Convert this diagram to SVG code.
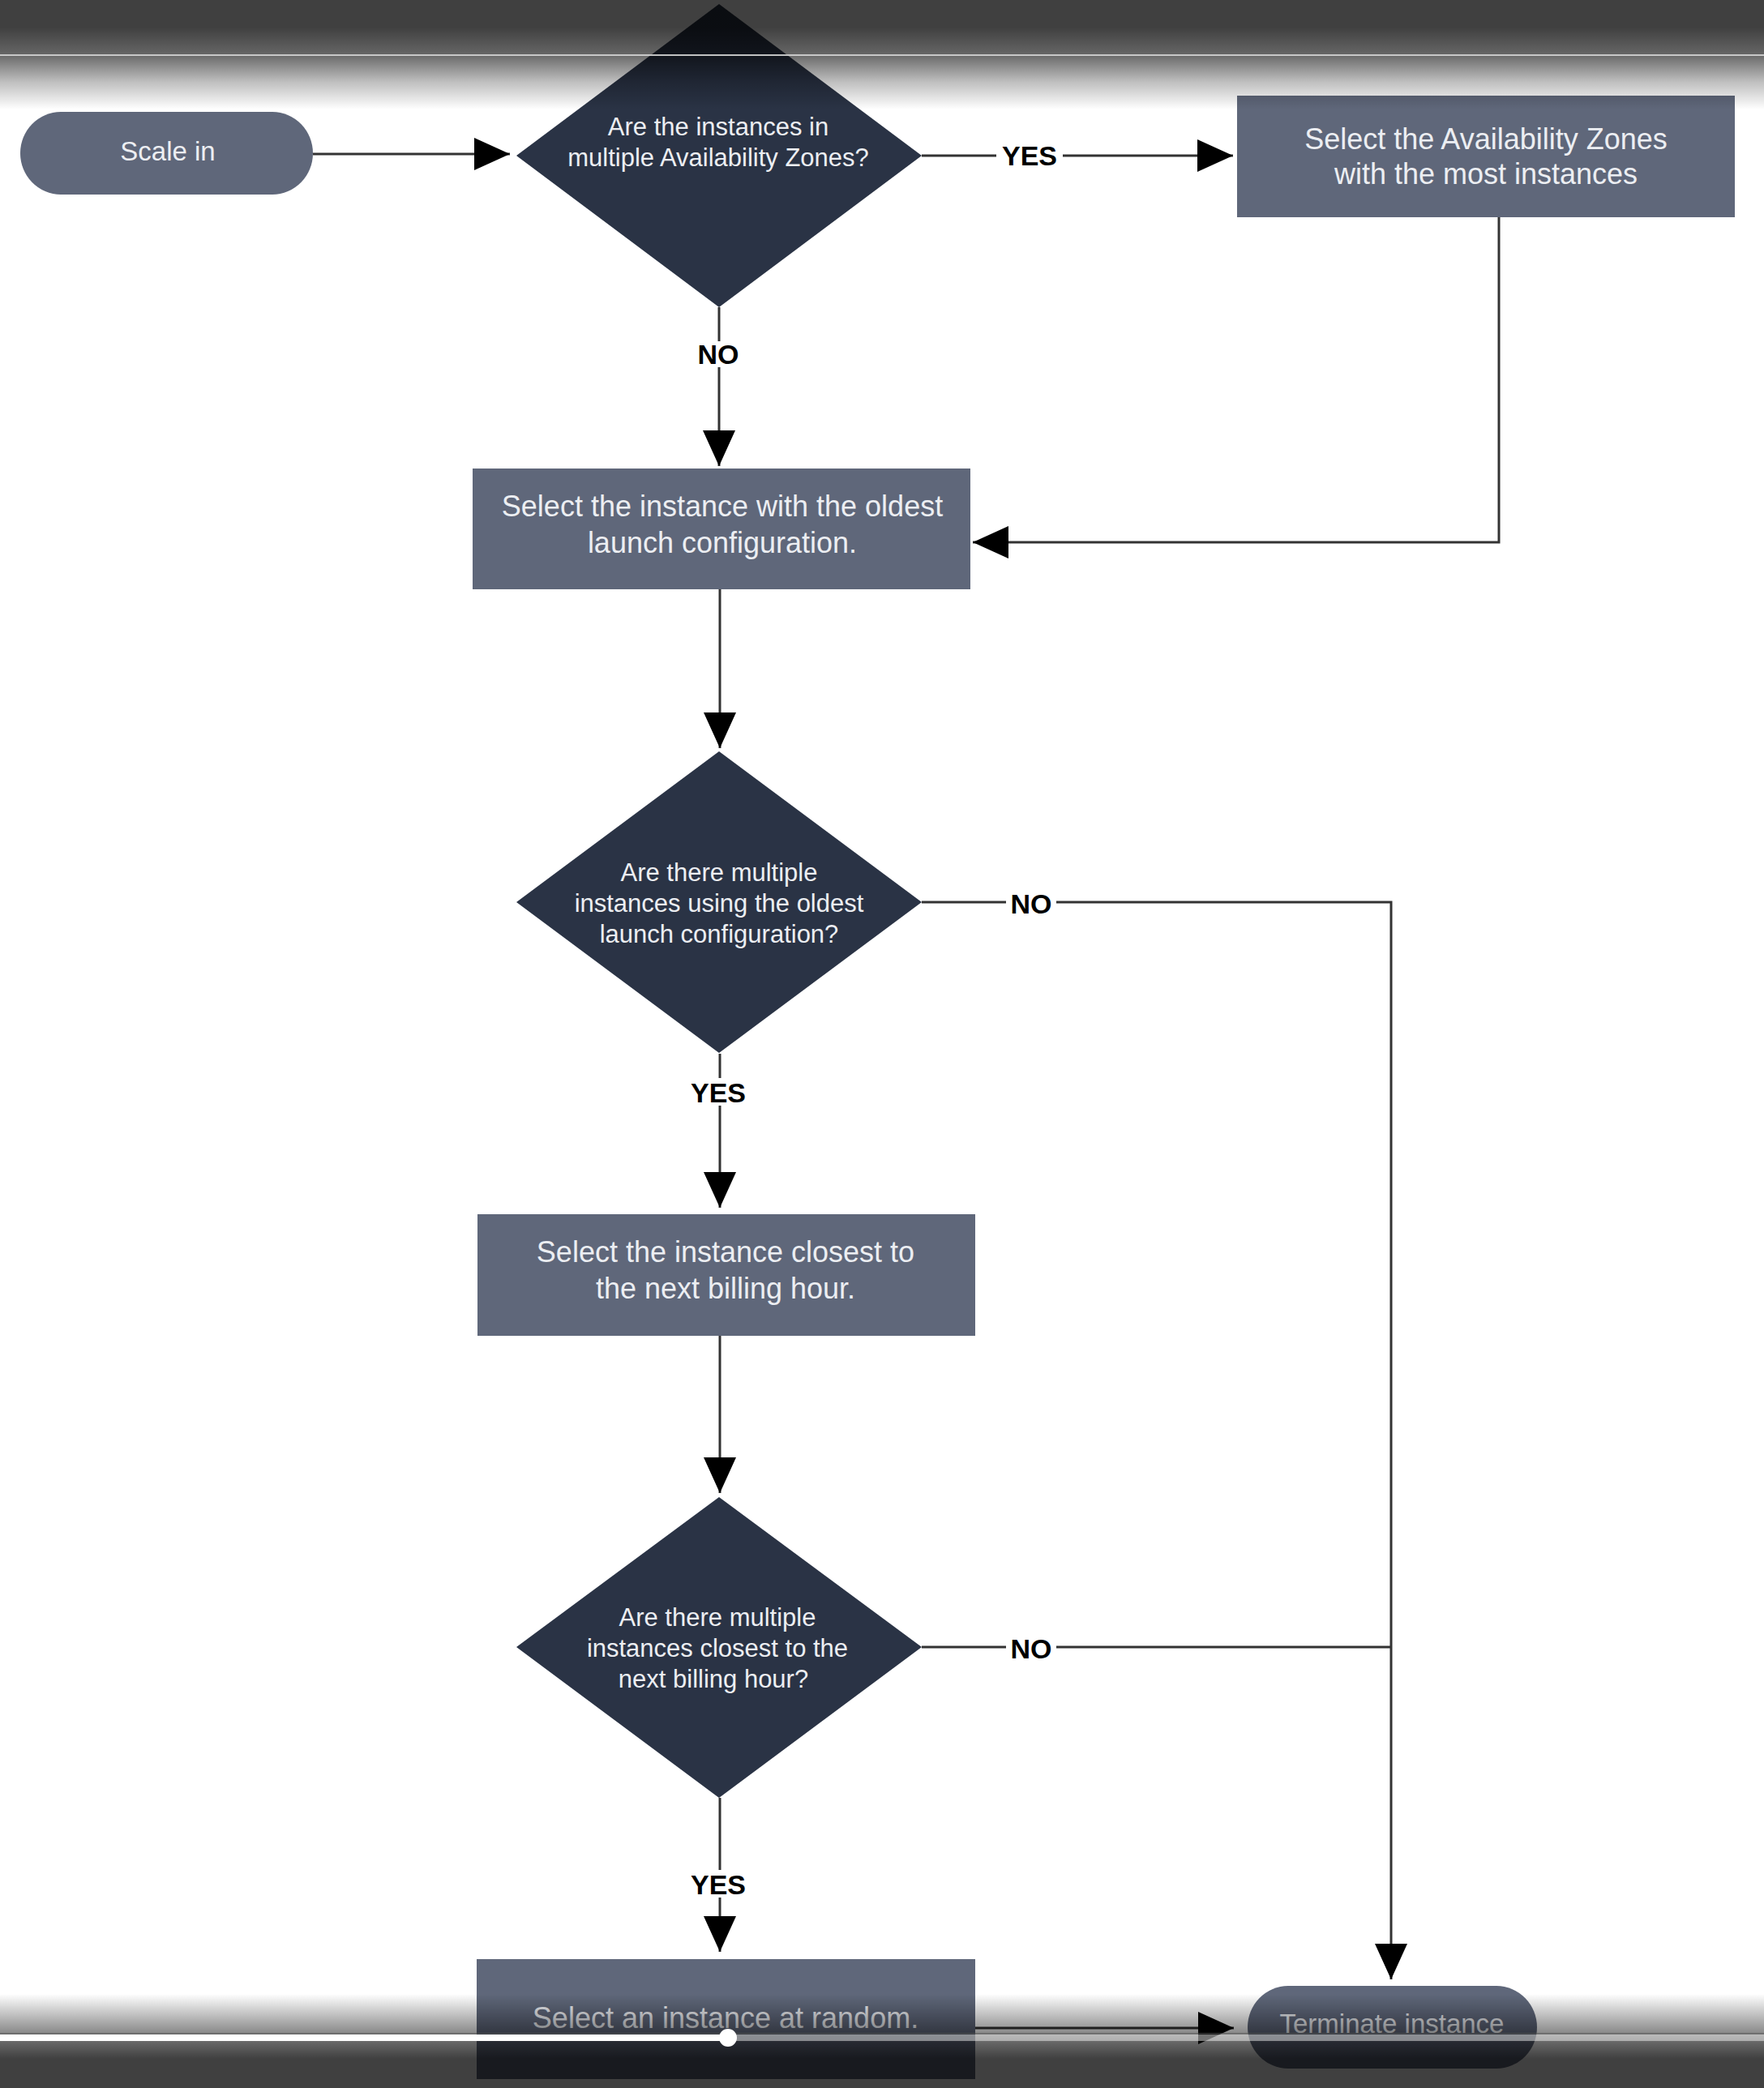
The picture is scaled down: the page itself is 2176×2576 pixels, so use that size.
<svg xmlns="http://www.w3.org/2000/svg" width="2176" height="2576" viewBox="0 0 2176 2576">
  <defs>
    <style>
      .box { fill: #5f677a; }
      .dia { fill: #2a3345; }
      .ntext { font-family: "Liberation Sans", Arial, sans-serif; fill: #eceef2; text-anchor: middle; }
      .t36 { font-size: 36px; }
      .t33 { font-size: 33px; }
      .t31 { font-size: 31px; }
      .conn { fill: none; stroke: #333333; stroke-width: 3; }
      .lbl { font-family: "Liberation Sans", Arial, sans-serif; font-weight: bold; font-size: 34px; fill: #000000; text-anchor: middle; }
      .lblbg { fill: #ffffff; }
    </style>
    <marker id="arrow" markerUnits="userSpaceOnUse" markerWidth="44" markerHeight="40" refX="44" refY="20" orient="auto">
      <path d="M0,0 L44,20 L0,40 Z" fill="#000000"/>
    </marker>
    <linearGradient id="topShade" x1="0" y1="0" x2="0" y2="1">
      <stop offset="0" stop-color="#000" stop-opacity="0.75"/>
      <stop offset="0.25" stop-color="#000" stop-opacity="0.75"/>
      <stop offset="0.5" stop-color="#000" stop-opacity="0.6"/>
      <stop offset="0.53" stop-color="#000" stop-opacity="0.55"/>
      <stop offset="0.75" stop-color="#000" stop-opacity="0.25"/>
      <stop offset="1" stop-color="#000" stop-opacity="0"/>
    </linearGradient>
    <linearGradient id="botShade" x1="0" y1="0" x2="0" y2="1">
      <stop offset="0" stop-color="#000" stop-opacity="0"/>
      <stop offset="0.405" stop-color="#000" stop-opacity="0.45"/>
      <stop offset="0.517" stop-color="#000" stop-opacity="0.6"/>
      <stop offset="0.69" stop-color="#000" stop-opacity="0.75"/>
      <stop offset="1" stop-color="#000" stop-opacity="0.75"/>
    </linearGradient>
  </defs>

  <rect x="0" y="0" width="2176" height="2576" fill="#ffffff"/>

  <g id="connectors">
    <path class="conn" d="M386,190 H629" marker-end="url(#arrow)"/>
    <path class="conn" d="M1137,192 H1521" marker-end="url(#arrow)"/>
    <path class="conn" d="M887,379 V575" marker-end="url(#arrow)"/>
    <path class="conn" d="M1849,268 V669 H1200" marker-end="url(#arrow)"/>
    <path class="conn" d="M888,727 V923" marker-end="url(#arrow)"/>
    <path class="conn" d="M1137,1113 H1716 V2442" marker-end="url(#arrow)"/>
    <path class="conn" d="M888,1300 V1490" marker-end="url(#arrow)"/>
    <path class="conn" d="M888,1648 V1842" marker-end="url(#arrow)"/>
    <path class="conn" d="M1137,2032 H1716"/>
    <path class="conn" d="M888,2218 V2408" marker-end="url(#arrow)"/>
    <path class="conn" d="M1203,2502 H1522" marker-end="url(#arrow)"/>

    <rect class="lblbg" x="1229" y="176" width="82" height="32"/>
    <text class="lbl" x="1270" y="204">YES</text>
    <rect class="lblbg" x="855" y="421" width="62" height="32"/>
    <text class="lbl" x="886" y="449">NO</text>
    <rect class="lblbg" x="1241" y="1099" width="62" height="32"/>
    <text class="lbl" x="1272" y="1127">NO</text>
    <rect class="lblbg" x="845" y="1330" width="82" height="34"/>
    <text class="lbl" x="886" y="1360">YES</text>
    <rect class="lblbg" x="1241" y="2018" width="62" height="32"/>
    <text class="lbl" x="1272" y="2046">NO</text>
    <rect class="lblbg" x="845" y="2307" width="82" height="34"/>
    <text class="lbl" x="886" y="2337">YES</text>
  </g>

  <g id="scale-in">
    <rect class="box" x="25" y="138" width="361" height="102" rx="50" ry="51"/>
    <text class="ntext t33" x="207" y="198">Scale in</text>
  </g>

  <g id="decision-multi-az">
    <polygon class="dia" points="887,5 1137,192 887,379 637,192"/>
    <text class="ntext t31" x="886" y="167">Are the instances in</text>
    <text class="ntext t31" x="886" y="205">multiple Availability Zones?</text>
  </g>

  <g id="select-az">
    <rect class="box" x="1526" y="118" width="614" height="150"/>
    <text class="ntext t36" x="1833" y="184">Select the Availability Zones</text>
    <text class="ntext t36" x="1833" y="227">with the most instances</text>
  </g>

  <g id="select-oldest-launch">
    <rect class="box" x="583" y="578" width="614" height="149"/>
    <text class="ntext t36" x="891" y="637">Select the instance with the oldest</text>
    <text class="ntext t36" x="891" y="682">launch configuration.</text>
  </g>

  <g id="decision-oldest-launch">
    <polygon class="dia" points="887,927 1137,1113 887,1299 637,1113"/>
    <text class="ntext t31" x="887" y="1087">Are there multiple</text>
    <text class="ntext t31" x="887" y="1125">instances using the oldest</text>
    <text class="ntext t31" x="887" y="1163">launch configuration?</text>
  </g>

  <g id="select-closest-billing">
    <rect class="box" x="589" y="1498" width="614" height="150"/>
    <text class="ntext t36" x="895" y="1557">Select the instance closest to</text>
    <text class="ntext t36" x="895" y="1602">the next billing hour.</text>
  </g>

  <g id="decision-closest-billing">
    <polygon class="dia" points="887,1847 1137,2032 887,2218 637,2032"/>
    <text class="ntext t31" x="885" y="2006">Are there multiple</text>
    <text class="ntext t31" x="885" y="2044">instances closest to the</text>
    <text class="ntext t31" x="880" y="2082">next billing hour?</text>
  </g>

  <g id="select-random">
    <rect class="box" x="588" y="2417" width="615" height="148"/>
    <text class="ntext t36" x="895" y="2502">Select an instance at random.</text>
  </g>

  <g id="terminate">
    <rect class="box" x="1539" y="2450" width="357" height="102" rx="50" ry="51"/>
    <text class="ntext t33" x="1717" y="2508">Terminate instance</text>
  </g>

  <g id="player-overlay">
    <rect x="0" y="0" width="2176" height="135" fill="url(#topShade)"/>
    <rect x="0" y="67" width="2176" height="2" fill="#d4d4d4" opacity="0.9"/>
    <rect x="0" y="2460" width="2176" height="116" fill="url(#botShade)"/>
    <rect x="0" y="2508" width="2176" height="1.5" fill="#555555" opacity="0.6"/>
    <rect x="898" y="2510" width="1278" height="8" fill="#ffffff" opacity="0.45"/>
    <rect x="0" y="2510" width="898" height="8" fill="#ffffff"/>
    <circle cx="898" cy="2514" r="11" fill="#ffffff"/>
  </g>
</svg>
